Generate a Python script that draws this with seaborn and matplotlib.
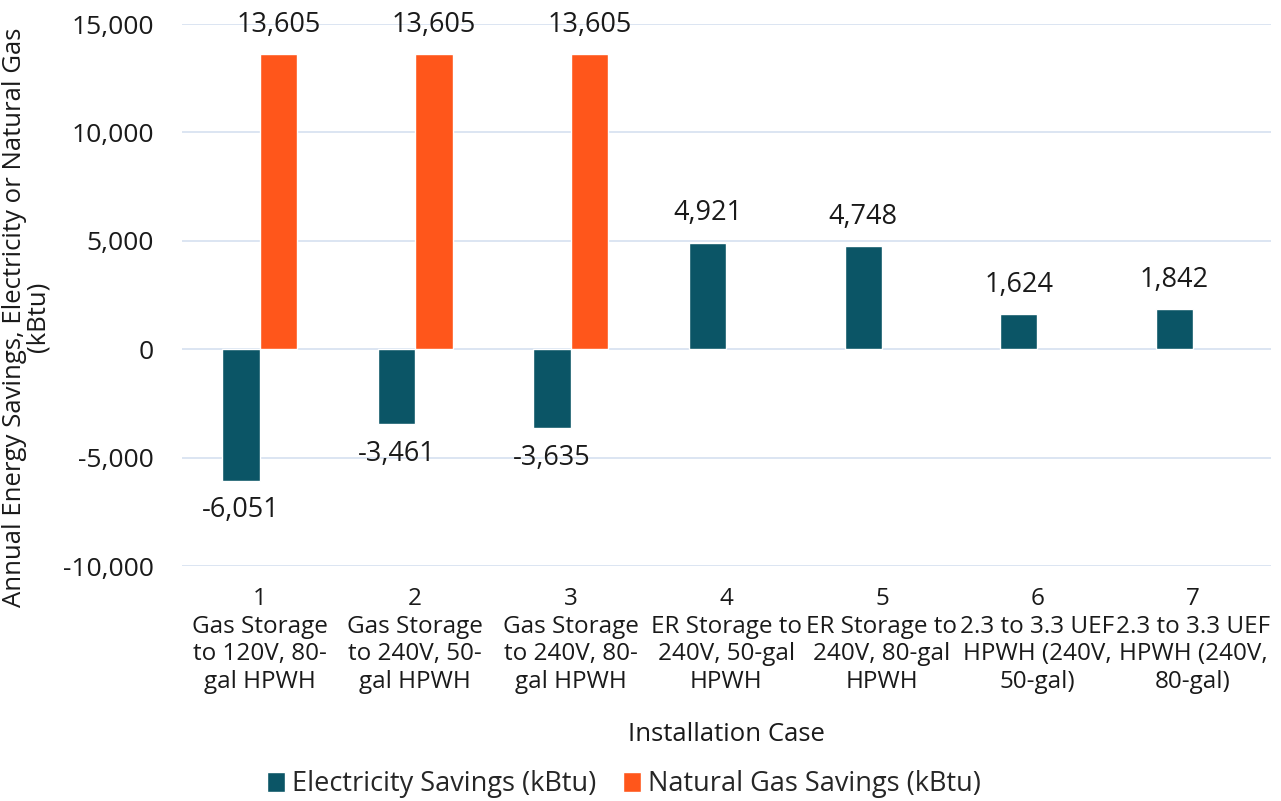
import numpy as np
import pandas as pd
import matplotlib.pyplot as plt
import seaborn as sns

cases = ['1\nGas Storage\nto 120V, 80-\ngal HPWH',
         '2\nGas Storage\nto 240V, 50-\ngal HPWH',
         '3\nGas Storage\nto 240V, 80-\ngal HPWH',
         '4\nER Storage to\n240V, 50-gal\nHPWH',
         '5\nER Storage to\n240V, 80-gal\nHPWH',
         '6\n2.3 to 3.3 UEF\nHPWH (240V,\n50-gal)',
         '7\n2.3 to 3.3 UEF\nHPWH (240V,\n80-gal)']
elec_savings = [-6051, -3461, -3635, 4921, 4748, 1624, 1842]
gas_savings = [13605, 13605, 13605, np.nan, np.nan, np.nan, np.nan]
series_names = ['Electricity Savings (kBtu)', 'Natural Gas Savings (kBtu)']
colors = ['#0b5566', '#ff561b']

df = pd.DataFrame({
    'case': cases * 2,
    'value': elec_savings + gas_savings,
    'series': [series_names[0]] * 7 + [series_names[1]] * 7,
})

sns.set_style('white')
plt.rcParams['font.family'] = ['Open Sans', 'DejaVu Sans']

fig, ax = plt.subplots(figsize=(12.81, 8.01), dpi=100)
fig.subplots_adjust(left=0.142, right=0.992, top=0.97, bottom=0.293)

sns.barplot(data=df, x='case', y='value', hue='series', palette=colors,
            width=0.48, saturation=1, ax=ax, zorder=3)

# value labels
for cont in ax.containers:
    labels = ['' if np.isnan(v) else f'{v:,.0f}' for v in cont.datavalues]
    ax.bar_label(cont, labels=labels, padding=11, fontsize=19.5, color='#1a1a1a')

ax.set_ylim(-10000, 15000)
ax.set_yticks(range(-10000, 15001, 5000))
ax.yaxis.set_major_formatter(plt.FuncFormatter(lambda v, p: f'{v:,.0f}'))
ax.grid(axis='y', color='#d6e0f0', linewidth=1.2, zorder=0)
ax.set_xlim(-0.5, 6.5)
for s in ax.spines.values():
    s.set_visible(False)
ax.tick_params(axis='y', length=0, labelsize=19, colors='#1a1a1a', pad=20)
ax.tick_params(axis='x', length=0, labelsize=17.5, colors='#1a1a1a', pad=15)
for t in ax.get_xticklabels():
    t.set_linespacing(1.2)

ax.set_ylabel('Annual Energy Savings, Electricity or Natural Gas\n(kBtu)',
              fontsize=18.5, color='#1a1a1a', linespacing=0.9)
ax.yaxis.set_label_coords(-0.121, 0.46)
ax.set_xlabel('Installation Case', fontsize=18.5, color='#1a1a1a', labelpad=20)

ax.legend(loc='center', bbox_to_anchor=(0.406, -0.402), ncol=2,
          frameon=False, fontsize=19.5, handlelength=0.65, handleheight=0.75,
          handletextpad=0.25, columnspacing=1.0)

plt.savefig('out.png', dpi=100)
